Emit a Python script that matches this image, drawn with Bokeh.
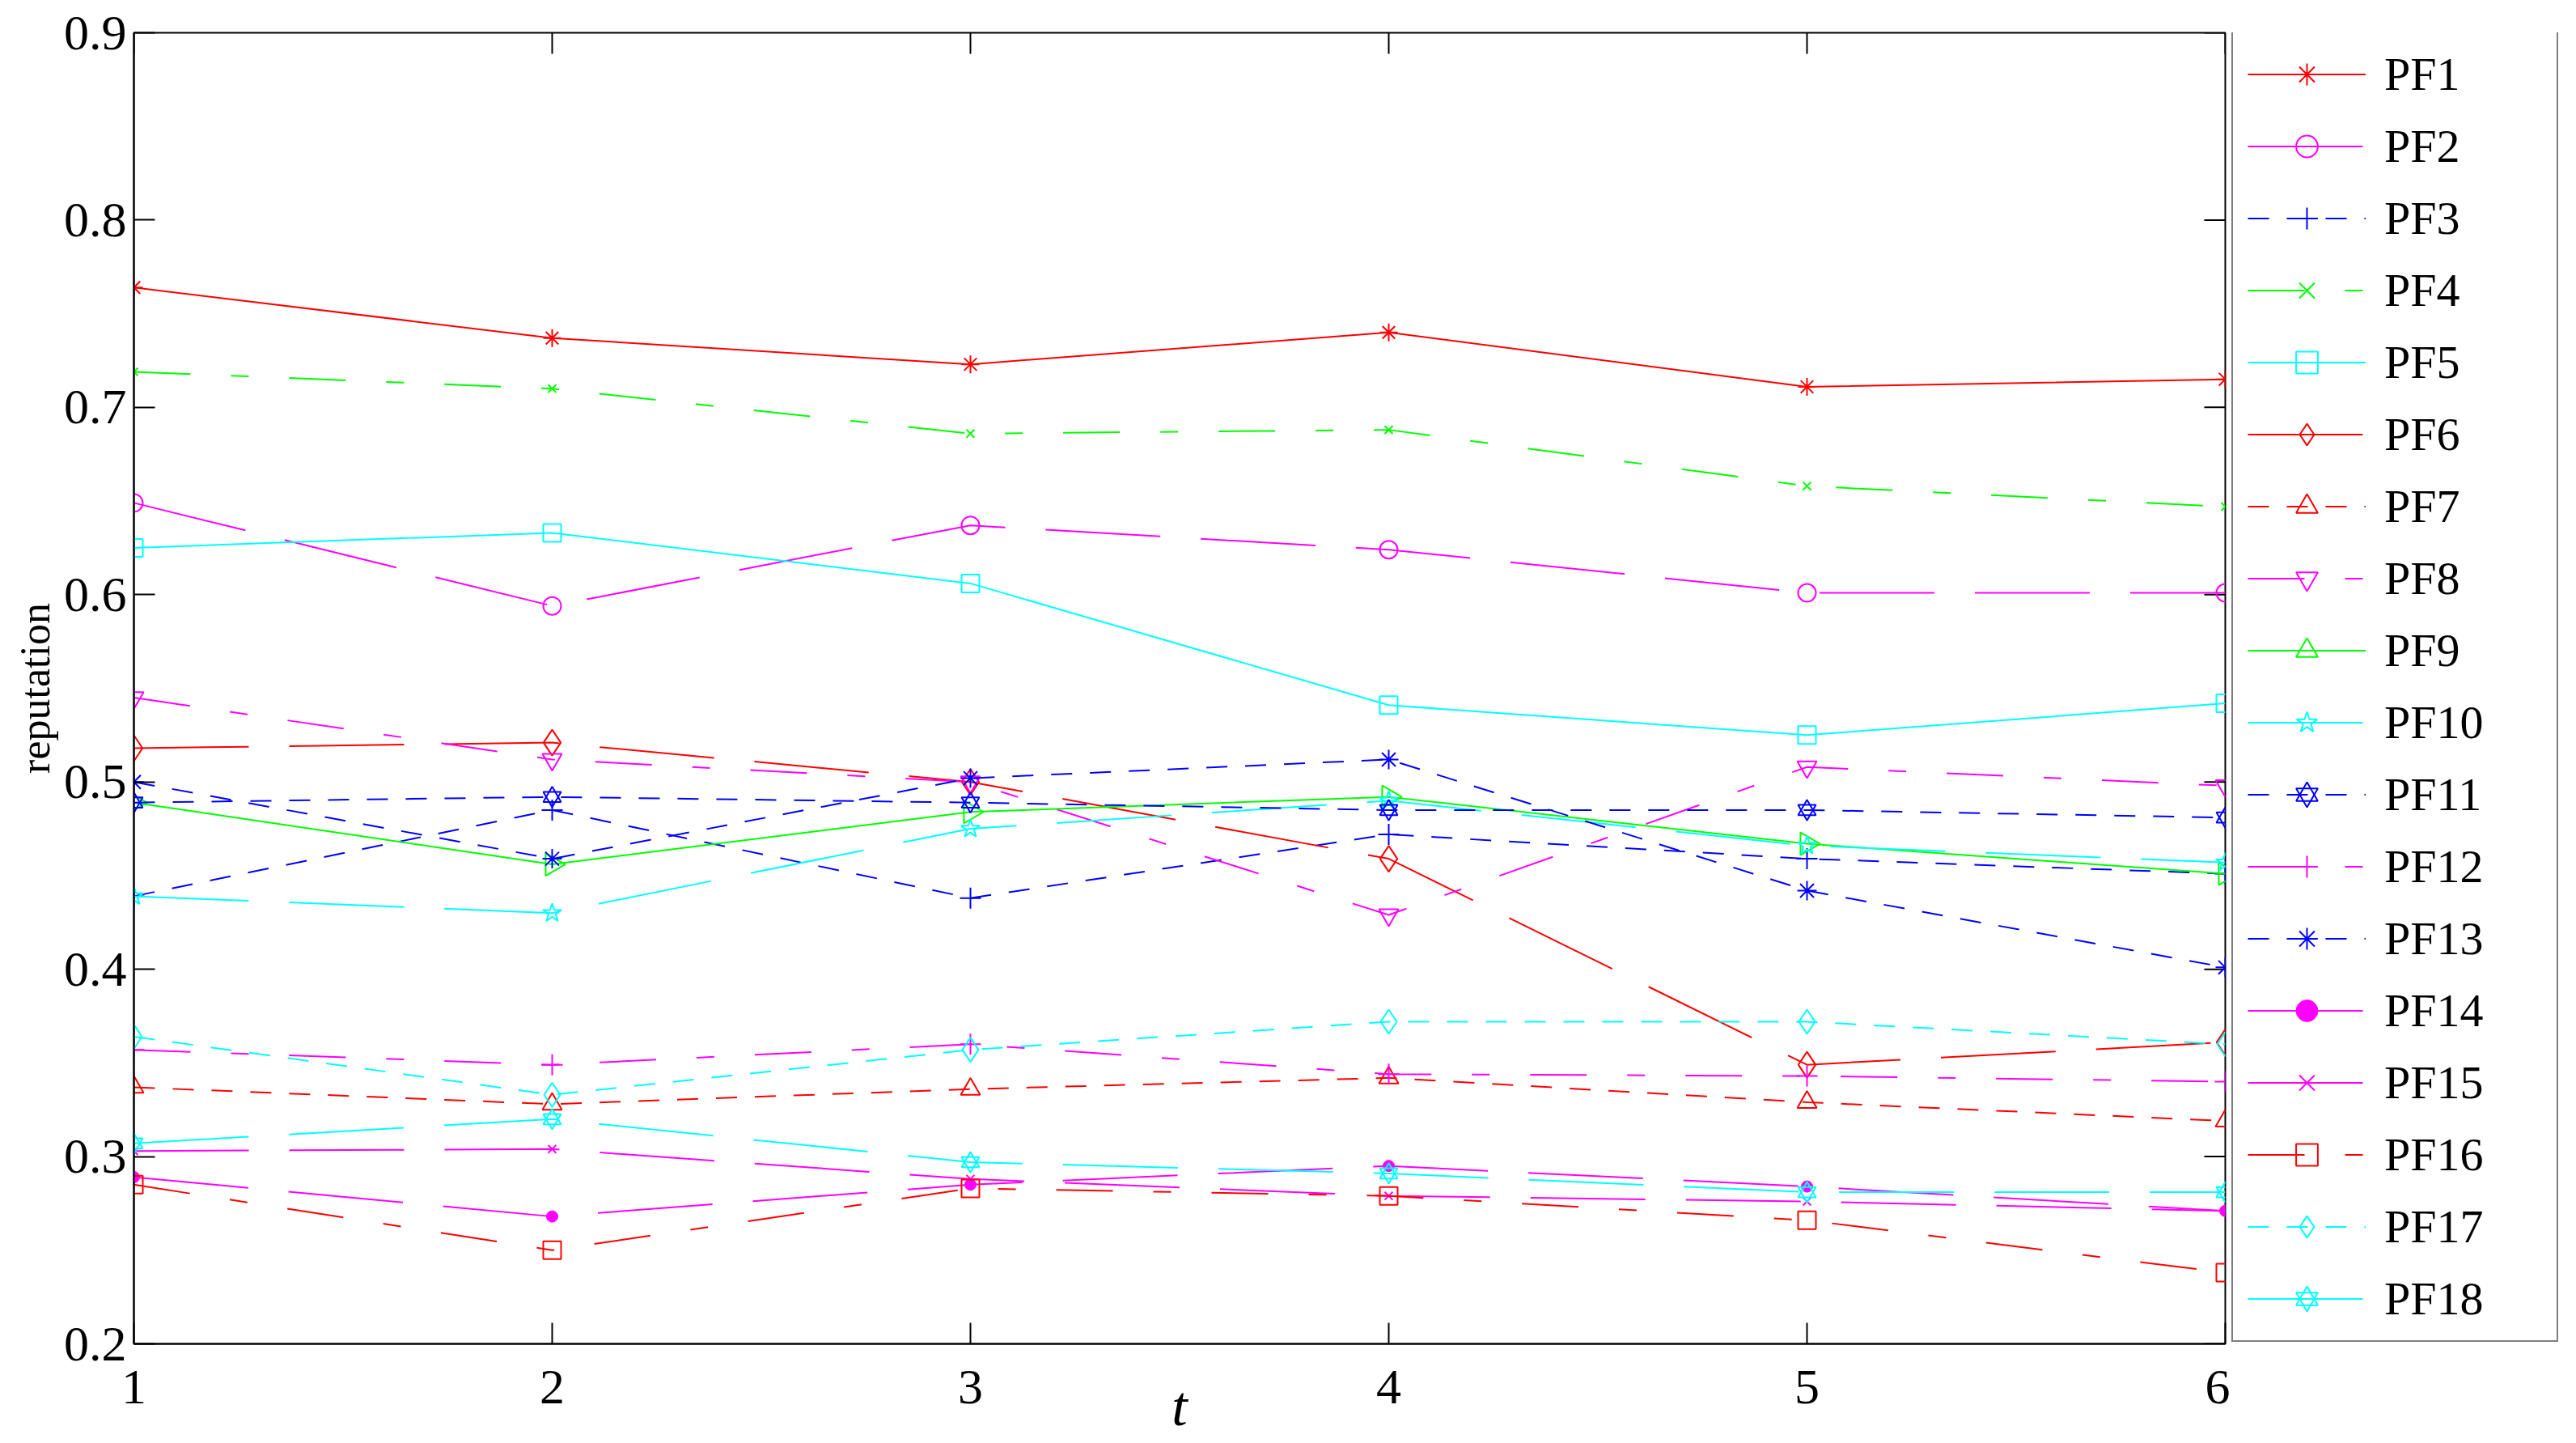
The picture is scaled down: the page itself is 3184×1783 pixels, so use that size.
import math
from bokeh.plotting import figure
from bokeh.layouts import row
from bokeh.models import (Range1d, FixedTicker, PrintfTickFormatter, Legend, LegendItem)
from bokeh.embed import file_html
from bokeh.resources import INLINE

# ---- data ----
t = [1, 2, 3, 4, 5, 6]
PF1 = [0.764, 0.737, 0.723, 0.740, 0.711, 0.715]
PF2 = [0.649, 0.594, 0.637, 0.624, 0.601, 0.601]
PF3 = [0.439, 0.485, 0.438, 0.472, 0.459, 0.451]
PF4 = [0.719, 0.710, 0.686, 0.688, 0.658, 0.647]
PF5 = [0.625, 0.633, 0.606, 0.541, 0.525, 0.542]
PF6 = [0.518, 0.521, 0.500, 0.459, 0.349, 0.361]
PF7 = [0.337, 0.328, 0.336, 0.342, 0.329, 0.319]
PF8 = [0.545, 0.512, 0.500, 0.429, 0.508, 0.498]
PF9 = [0.489, 0.456, 0.484, 0.492, 0.467, 0.451]
PF10 = [0.439, 0.430, 0.475, 0.490, 0.466, 0.457]
PF11 = [0.489, 0.492, 0.489, 0.485, 0.485, 0.481]
PF12 = [0.357, 0.349, 0.360, 0.344, 0.343, 0.340]
PF13 = [0.500, 0.459, 0.502, 0.512, 0.442, 0.401]
PF14 = [0.289, 0.268, 0.285, 0.295, 0.284, 0.271]
PF15 = [0.303, 0.304, 0.288, 0.279, 0.276, 0.271]
PF16 = [0.285, 0.250, 0.283, 0.279, 0.266, 0.238]
PF17 = [0.364, 0.333, 0.357, 0.372, 0.372, 0.360]
PF18 = [0.307, 0.320, 0.297, 0.291, 0.281, 0.281]

names = ["PF%d" % i for i in range(1, 19)]
values = [PF1, PF2, PF3, PF4, PF5, PF6, PF7, PF8, PF9,
          PF10, PF11, PF12, PF13, PF14, PF15, PF16, PF17, PF18]
x_ticks = t
y_ticks = [0.2, 0.3, 0.4, 0.5, 0.6, 0.7, 0.8, 0.9]
x_min, x_max = 1, 6
y_min, y_max = 0.2, 0.9

# ---- styles ----
R, M, B, G, C = "#FF0000", "#FF00FF", "#0000FF", "#00FF00", "#00FFFF"
colors = [R, M, B, G, C, R, R, M, G, C, B, M, B, M, M, R, C, C]
SOLID = "solid"
LONG = "142 50"
DASHDOT = "70 50 22 50"
DASH = "26 22"
dashes = [SOLID, LONG, DASH, DASHDOT, SOLID, LONG, DASH, DASHDOT, SOLID,
          LONG, DASH, DASHDOT, DASH, LONG, LONG, DASHDOT, DASH, LONG]
markers = ["asterisk", "circle", "cross", "x", "square", "diamond", "triangle",
           "inverted_triangle", "triangle_right", "star", "hexagram", "cross",
           "asterisk", "dot", "x", "square", "diamond", "hexagram"]
sizes = [22, 22, 26, 14, 22, 32, 24, 24, 28, 24, 22, 26, 24, 14, 14, 22, 30, 22]

FONT = "Liberation Serif"
W, H = 3180, 1782
MAIN_W = 2756          # main figure width (frame right edge at 2750)
LEG_W = W - MAIN_W     # legend figure width
FRAME_BOTTOM = 1660

p = figure(width=MAIN_W, height=H,
           x_range=Range1d(x_min, x_max), y_range=Range1d(y_min, y_max),
           output_backend="svg", toolbar_location=None,
           min_border_left=165, min_border_right=MAIN_W - 2750,
           min_border_top=40, min_border_bottom=H - FRAME_BOTTOM,
           background_fill_color="white", border_fill_color="white")
p.xgrid.visible = False
p.ygrid.visible = False
p.outline_line_color = "black"
p.outline_line_width = 2


def style_axis(ax, ticks):
    ax.ticker = FixedTicker(ticks=ticks)
    ax.major_tick_in = 26
    ax.major_tick_out = 0
    ax.minor_tick_line_color = None
    ax.major_tick_line_color = "black"
    ax.major_tick_line_width = 2
    ax.axis_line_color = "black"
    ax.axis_line_width = 2
    ax.major_label_text_font = FONT
    ax.major_label_text_font_size = "62px"
    ax.major_label_text_color = "black"


xax = p.xaxis[0]
style_axis(xax, x_ticks)
xax.major_label_standoff = 33
xax.formatter = PrintfTickFormatter(format="%d")
xax.axis_label = "t"
xax.axis_label_text_font = FONT
xax.axis_label_text_font_size = "70px"
xax.axis_label_text_font_style = "italic"
xax.axis_label_text_color = "black"
xax.axis_label_standoff = -38

yax = p.yaxis[0]
style_axis(yax, y_ticks)
yax.major_label_standoff = 9
yax.formatter = PrintfTickFormatter(format="%.1f")
yax.axis_label = "reputation"
yax.axis_label_text_font = FONT
yax.axis_label_text_font_size = "52px"
yax.axis_label_text_font_style = "normal"
yax.axis_label_text_color = "black"
yax.axis_label_standoff = 4

# inward ticks on the top and right edges of the box
p.ray(x=x_ticks, y=[y_max] * len(x_ticks), length=26, length_units="screen",
      angle=-math.pi / 2, line_color="black", line_width=2)
p.ray(x=[x_max] * len(y_ticks), y=y_ticks, length=26, length_units="screen",
      angle=math.pi, line_color="black", line_width=2)

# legend lives in its own narrow figure to the right of the axes box
pl = figure(width=LEG_W, height=H, x_range=Range1d(100, 101), y_range=Range1d(100, 101),
            output_backend="svg", toolbar_location=None,
            x_axis_location=None, y_axis_location=None,
            min_border_left=0, min_border_right=0, min_border_top=0, min_border_bottom=0,
            background_fill_color="white", border_fill_color="white")
pl.xgrid.visible = False
pl.ygrid.visible = False
pl.outline_line_color = None


def draw_series(fig, vals, col, dash, mk, sz):
    rends = [fig.line(t, vals, line_color=col, line_width=2, line_dash=dash)]
    if mk == "hexagram":
        rends.append(fig.scatter(t, vals, marker="triangle", size=sz, line_color=col,
                                 fill_color=None, line_width=2))
        rends.append(fig.scatter(t, vals, marker="inverted_triangle", size=sz, line_color=col,
                                 fill_color=None, line_width=2))
    elif mk == "dot":
        rends.append(fig.scatter(t, vals, marker="circle", size=sz, line_color=col,
                                 fill_color=col, line_width=1))
    elif mk == "triangle_right":
        rends.append(fig.scatter(t, vals, marker="triangle", size=sz, line_color=col,
                                 fill_color=None, line_width=2, angle=-math.pi / 2))
    else:
        rends.append(fig.scatter(t, vals, marker=mk, size=sz, line_color=col,
                                 fill_color=None, line_width=2))
    return rends


items = []
for name, vals, col, dash, mk, sz in zip(names, values, colors, dashes, markers, sizes):
    draw_series(p, vals, col, dash, mk, sz)
    rends = draw_series(pl, vals, col, dash, mk, sz)
    items.append(LegendItem(label=name, renderers=rends))

# the legend figure's frame is aligned with the main frame (top 40, bottom FRAME_BOTTOM);
# keep the legend box just inside it so its border is not clipped
PAD, ENTRY_H, GAP = 18, 67, 22
LEG_H = 2 * PAD + 18 * ENTRY_H + 17 * GAP
LEG_TOP = 42
legend = Legend(items=items, location=(2, FRAME_BOTTOM - LEG_TOP - LEG_H),
                padding=PAD, spacing=GAP,
                glyph_width=146, glyph_height=ENTRY_H, label_height=ENTRY_H, label_width=195,
                label_standoff=23, label_text_font=FONT, label_text_font_size="58px",
                label_text_color="black", border_line_color="black",
                border_line_width=2, background_fill_color="white",
                background_fill_alpha=1.0, margin=0)
pl.add_layout(legend)

layout = row(p, pl, spacing=0)
open("out.html", "w").write(file_html(layout, INLINE))
